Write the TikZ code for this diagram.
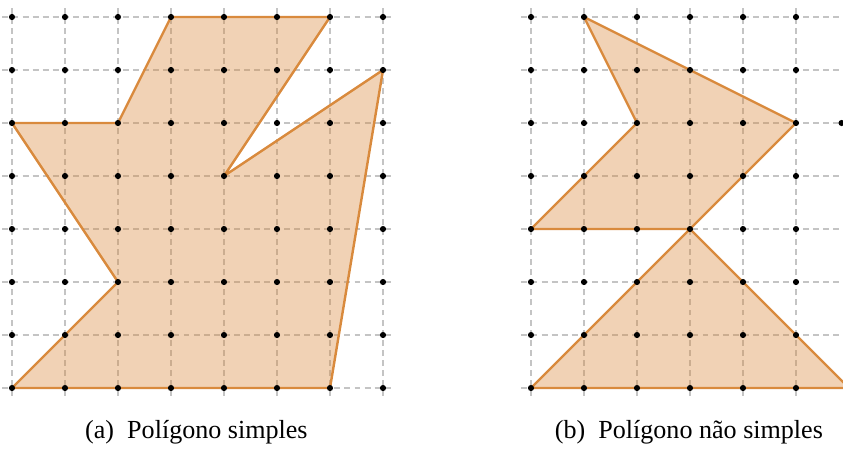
\documentclass[tikz,border=0pt]{standalone}
\usepackage{fontspec}
\setmainfont{Liberation Serif}
\usetikzlibrary{positioning}
\definecolor{PolyOrange}{HTML}{D98A3D}
\definecolor{GridGray}{HTML}{C4C4C4}

\begin{document}
\begin{tikzpicture}
\tikzstyle{gridline}=[GridGray,line width=0.6pt,dash pattern=on 3.2pt off 2.2pt]
\tikzstyle{poly}=[draw=PolyOrange,line width=1.3pt,fill=PolyOrange,fill opacity=0.38,line join=round]
\tikzstyle{dot}=[circle,fill=black,inner sep=0pt,minimum size=3.3pt]
\tikzstyle{caption}=[anchor=base,font=\fontsize{14}{16}\selectfont]
\useasboundingbox (-0.226,-1.132) rectangle (15.679,7.321);
% (a) simple polygon
\foreach \i in {0,...,7} {
  \draw[gridline] (\i,-0.15) -- (\i,7.18);
  \draw[gridline] (-0.18,\i) -- (7.15,\i);
}
\draw[poly] (0,0) -- (6,0) -- (7,6) -- (4,4) -- (6,7) -- (3,7) -- (2,5) -- (0,5) -- (2,2) -- cycle;
\foreach \i in {0,...,7}
  \foreach \j in {0,...,7}
    \node[dot] (a-\i-\j) at (\i,\j) {};
\node[caption] (capa) at (3.48,-0.95) {(a)\enspace Polígono simples};
% (b) polygon that is not simple
\begin{scope}[xshift=9.792cm]
\foreach \i in {0,...,5}
  \draw[gridline] (\i,-0.15) -- (\i,7.18);
\foreach \j in {0,...,7}
  \draw[gridline] (-0.18,\j) -- (6.2,\j);
\draw[poly] (0,0) -- (6,0) -- (3,3) -- (5,5) -- (1,7) -- (2,5) -- (0,3) -- (3,3) -- cycle;
\foreach \i in {0,...,5}
  \foreach \j in {0,...,7}
    \node[dot] (b-\i-\j) at (\i,\j) {};
\node[dot] (b-extra) at (5.86,5) {};
\node[caption] (capb) at (2.98,-0.95) {(b)\enspace Polígono não simples};
\end{scope}
\end{tikzpicture}
\end{document}
